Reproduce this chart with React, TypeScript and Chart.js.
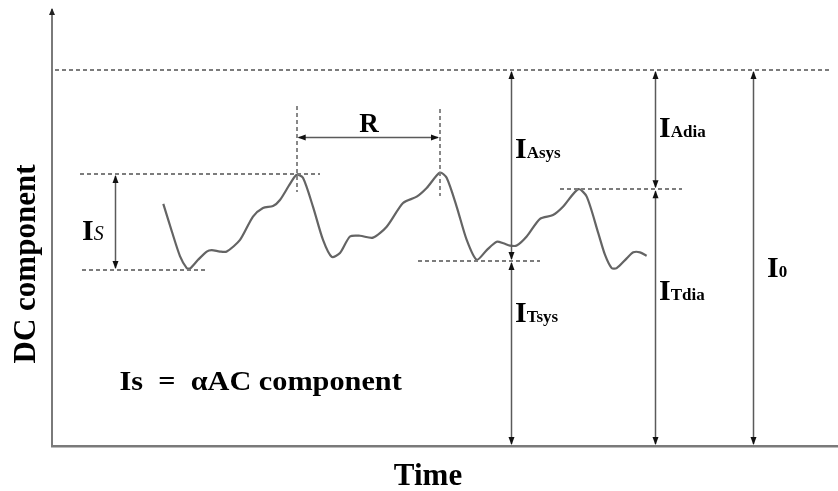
import { useEffect, useRef } from "react";
import { Chart, registerables } from "chart.js";

Chart.register(...registerables);

// Time axis (arbitrary units, 0–100 across the plot)
const waveTime = [
  14.16, 15.27, 16.28, 17.14, 17.56, 18.58, 19.68, 20.32, 21.37, 22.23,
  23.92, 25.57, 26.84, 28.12, 29.0, 30.28, 31.13, 31.93, 33.21, 34.48,
  35.59, 36.64, 37.91, 39.19, 40.84, 42.58, 44.66, 46.4, 47.67, 49.36,
  50.21, 51.49, 52.76, 54.03, 55.31, 56.58, 57.42, 58.27, 59.12, 60.39,
  62.09, 63.74, 65.01, 66.96, 68.03, 69.5, 70.36, 71.21, 71.84, 73.12,
  73.96, 74.81, 75.66,
];

// Detected intensity (DC level, I0 = 100)
const waveValue = [
  64.4, 56.9, 50.5, 47.3, 47.2, 49.5, 51.7, 52.1, 51.7, 51.7,
  54.8, 61.0, 63.3, 63.8, 65.4, 69.7, 72.1, 71.3, 63.6, 54.8,
  50.3, 51.3, 55.7, 55.9, 55.4, 58.3, 64.6, 66.3, 68.6, 72.7,
  71.3, 63.6, 54.8, 49.5, 52.1, 54.3, 53.9, 53.3, 53.3, 55.7,
  60.4, 61.4, 63.6, 68.3, 66.3, 56.6, 50.8, 47.3, 47.3, 49.9,
  51.5, 51.5, 50.6,
];

// Reference levels
const levelI0 = 100;
const levelTsys = 49.2;
const levelTdia = 68.3;
const isHigh = 72.3;
const isLow = 46.8;
const peakTimes = [31.13, 49.36];

const SERIF = '"Liberation Serif", "Times New Roman", serif';

function arrowHead(ctx: CanvasRenderingContext2D, x: number, y: number, dir: number, len = 8, half = 3) {
  // dir: -1 points up, +1 points down, 2 points left, -2 points right
  ctx.beginPath();
  if (dir === -1 || dir === 1) {
    ctx.moveTo(x, y);
    ctx.lineTo(x - half, y - dir * len);
    ctx.lineTo(x + half, y - dir * len);
  } else {
    const s = dir === 2 ? 1 : -1;
    ctx.moveTo(x, y);
    ctx.lineTo(x + s * len, y - half);
    ctx.lineTo(x + s * len, y + half);
  }
  ctx.closePath();
  ctx.fill();
}

const annotate = {
  id: "annotate",
  afterDraw(chart: any) {
    const { ctx, scales } = chart;
    const X = (v: number) => scales.x.getPixelForValue(v);
    const Y = (v: number) => scales.y.getPixelForValue(v);
    ctx.save();

    // arrow tip of the vertical axis
    ctx.fillStyle = "#222";
    ctx.strokeStyle = "#7a7a7a";
    ctx.lineWidth = 2;
    ctx.beginPath();
    ctx.moveTo(X(0), Y(115.4));
    ctx.lineTo(X(0), Y(115.4) - 3);
    ctx.stroke();
    arrowHead(ctx, X(0), Y(115.4) - 4, -1, 7, 3);

    // dashed guides
    ctx.strokeStyle = "#7c7c7c";
    ctx.lineWidth = 1.8;
    ctx.setLineDash([4, 3]);
    const dash = (x1: number, y1: number, x2: number, y2: number) => {
      ctx.beginPath();
      ctx.moveTo(Math.round(X(x1)), Math.round(Y(y1)));
      ctx.lineTo(Math.round(X(x2)), Math.round(Y(y2)));
      ctx.stroke();
    };
    dash(0.4, levelI0, 99.2, levelI0);
    dash(3.56, isHigh, 34.1, isHigh);
    dash(3.82, isLow, 19.47, isLow);
    dash(peakTimes[0], 90.4, peakTimes[0], 67.6);
    dash(peakTimes[1], 89.6, peakTimes[1], 66.5);
    dash(46.56, levelTsys, 62.09, levelTsys);
    dash(64.63, levelTdia, 80.15, levelTdia);
    ctx.setLineDash([]);

    // measurement arrows
    ctx.strokeStyle = "#5a5a5a";
    ctx.fillStyle = "#111";
    ctx.lineWidth = 1.5;
    const vArrow = (xv: number, top: number, bottom: number) => {
      const px = Math.round(X(xv)) + 0.5;
      ctx.beginPath();
      ctx.moveTo(px, Y(top) + 2);
      ctx.lineTo(px, Y(bottom) - 2);
      ctx.stroke();
      arrowHead(ctx, px, Y(top) + 1, -1);
      arrowHead(ctx, px, Y(bottom) - 1, 1);
    };
    vArrow(8.02, isHigh, isLow);
    vArrow(58.4, levelI0, levelTsys);
    vArrow(58.4, levelTsys, 0);
    vArrow(76.72, levelI0, levelTdia);
    vArrow(76.72, levelTdia, 0);
    vArrow(89.19, levelI0, 0);

    // R interval
    const ry = Math.round(Y(82.1)) + 0.5;
    ctx.beginPath();
    ctx.moveTo(X(peakTimes[0]) + 2, ry);
    ctx.lineTo(X(peakTimes[1]) - 2, ry);
    ctx.stroke();
    arrowHead(ctx, X(peakTimes[0]) + 1, ry, 2);
    arrowHead(ctx, X(peakTimes[1]) - 1, ry, -2);

    // labels
    ctx.fillStyle = "#000";
    ctx.textBaseline = "alphabetic";
    ctx.textAlign = "left";
    const iLabel = (sub: string, xv: number, yv: number, dx: number, subFont: string) => {
      const lx = X(xv) + dx;
      const ly = Y(yv);
      ctx.font = `bold 30px ${SERIF}`;
      ctx.fillText("I", lx, ly);
      const w = ctx.measureText("I").width;
      ctx.font = subFont;
      ctx.fillText(sub, lx + w, ly);
    };
    const subBold = `bold 17px ${SERIF}`;
    iLabel("Asys", 58.4, 76.5, 4, subBold);
    iLabel("Tsys", 58.4, 33.06, 4, subBold);
    iLabel("Adia", 76.72, 82.1, 4, subBold);
    iLabel("Tdia", 76.72, 38.83, 4, subBold);
    iLabel("0", 89.19, 45.03, 14, subBold);
    iLabel("S", 3.82, 54.79, 0, `italic 20px ${SERIF}`);

    ctx.font = `bold 27px ${SERIF}`;
    ctx.textAlign = "center";
    ctx.fillText("R", X(40.33), Y(83.43));

    // relation between the pulsatile amplitude and the AC component
    ctx.textAlign = "left";
    ctx.font = `bold 28px ${SERIF}`;
    const formula = "Is  =  \u03b1AC component";
    const fw = ctx.measureText(formula).width;
    const targetW = X(44.5) - X(8.6);
    ctx.save();
    ctx.translate(X(8.6), Y(14.9));
    ctx.scale(targetW / fw, 1);
    ctx.fillText(formula, 0, 0);
    ctx.restore();

    // axis titles
    ctx.font = `bold 31px ${SERIF}`;
    ctx.textAlign = "center";
    ctx.fillText("Time", 428, 485);
    ctx.save();
    ctx.translate(35, 264);
    ctx.rotate(-Math.PI / 2);
    ctx.fillText("DC component", 0, 0);
    ctx.restore();

    ctx.restore();
  },
};

export default function App() {
  const canvasRef = useRef<HTMLCanvasElement | null>(null);

  useEffect(() => {
    document.body.style.margin = "0";
    const canvas = canvasRef.current;
    if (!canvas) return;
    const chart = new Chart(canvas, {
      type: "line",
      data: {
        datasets: [
          {
            data: waveTime.map((t, i) => ({ x: t, y: waveValue[i] })),
            borderColor: "#646464",
            borderWidth: 2.2,
            pointRadius: 0,
            tension: 0.25,
            fill: false,
          },
        ],
      },
      options: {
        animation: false,
        responsive: false,
        devicePixelRatio: 1,
        layout: { padding: { left: 52, top: 12, right: 0, bottom: 45 } },
        plugins: {
          legend: { display: false },
          tooltip: { enabled: false },
        },
        scales: {
          x: {
            type: "linear",
            min: 0,
            max: 100,
            ticks: { display: false },
            grid: { display: false, drawTicks: false },
            border: { display: true, color: "#7a7a7a", width: 2.5 },
          },
          y: {
            type: "linear",
            min: 0,
            max: 115.4,
            ticks: { display: false },
            grid: { display: false, drawTicks: false },
            border: { display: true, color: "#7a7a7a", width: 2 },
          },
        },
      },
      plugins: [annotate],
    });
    return () => chart.destroy();
  }, []);

  return (
    <div style={{ width: 838, height: 491, background: "#fff" }}>
      <canvas ref={canvasRef} width={838} height={491} />
    </div>
  );
}
